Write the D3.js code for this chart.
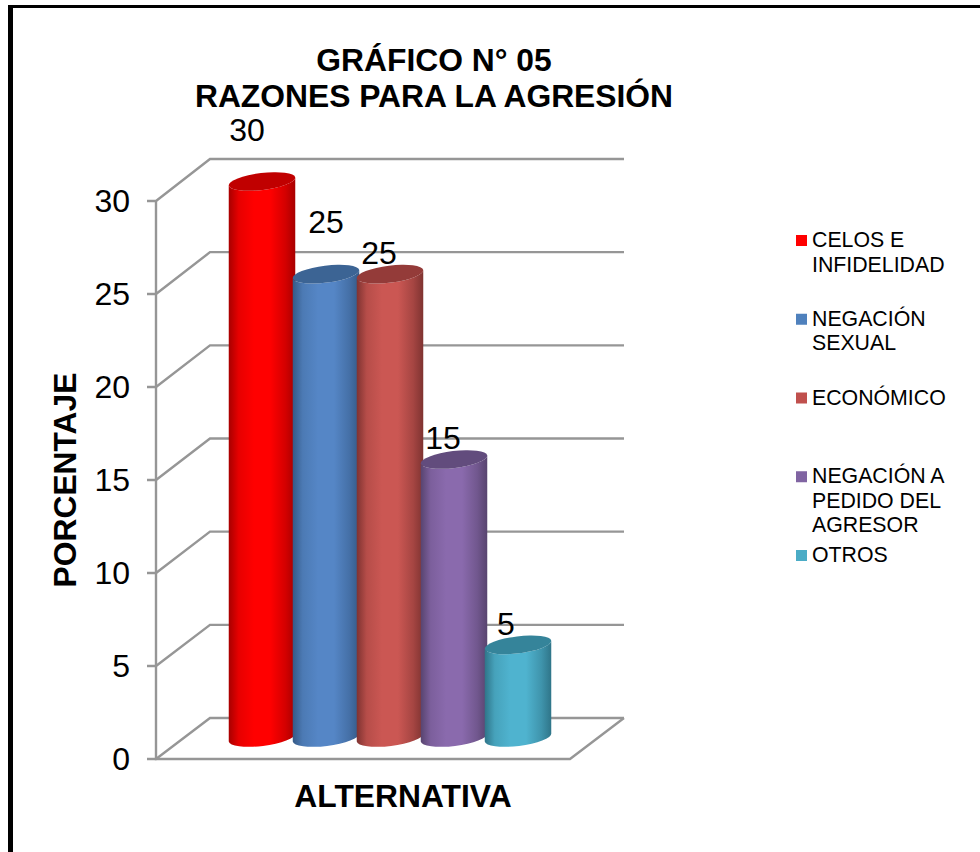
<!DOCTYPE html>
<html><head><meta charset="utf-8">
<script src="https://cdn.jsdelivr.net/npm/d3@7"></script>
<style>html,body{margin:0;padding:0;background:#fff;overflow:hidden}svg{display:block}text{font-family:"Liberation Sans",Arial,sans-serif;fill:#000}</style>
</head><body><svg id="c" width="980" height="852"></svg>
<script>
const categories = ["CELOS E INFIDELIDAD","NEGACIÓN SEXUAL","ECONÓMICO","NEGACIÓN A PEDIDO DEL AGRESOR","OTROS"];
const legendLines = [["CELOS E","INFIDELIDAD"],["NEGACIÓN","SEXUAL"],["ECONÓMICO"],["NEGACIÓN A","PEDIDO DEL","AGRESOR"],["OTROS"]];
const values = [30,25,25,15,5];
const tickValues = [0,5,10,15,20,25,30];
const baseColors = ["#ff0000","#4f81bd","#c0504d","#8064a2","#4bacc6"];
const centerColors = ["#ff0000","#5586c6","#cb5753","#8a6aad","#4fb3cf"];
const topColors = ["#c00000","#3c6494","#943b39","#624c7d","#35849a"];
const edgeColors = ["#a80000","#355a87","#7f3331","#58446f","#2f7589"];
const labelNudge = [[-15,-41],[0,-41],[-11,-10],[-11,-11],[-12,-10]];

const svg = d3.select("#c");
const yFront = d3.scaleLinear().domain([0,30]).range([759,201]);
const yBack = d3.scaleLinear().domain([0,30]).range([718,159]);
const yBar = d3.scaleLinear().domain([0,30]).range([737.5,181.5]);
const x = d3.scaleBand().domain(categories).range([230,550]).padding(0);
const frontL=156, frontR=570, backL=210, backR=624, rx=33.5, ry=8.5, tilt=-7;

// frame
svg.append("rect").attr("x",8).attr("y",5).attr("width",972).attr("height",3).attr("fill","#000");
svg.append("rect").attr("x",8).attr("y",5).attr("width",5).attr("height",847).attr("fill","#000");

// grid and walls
const grid = svg.append("g").attr("fill","none").attr("stroke","#969696").attr("stroke-width",2.4);
tickValues.forEach(t=>{
  grid.append("path").attr("d",`M${frontL-9},${yFront(t)}H${frontL}L${backL},${yBack(t)}H${backR}`);
});
grid.append("path").attr("d",`M${frontL},${yFront(30)}V${yFront(0)}H${frontR}L${backR},${yBack(0)}`);

svg.append("g").selectAll("text").data(tickValues).join("text")
  .attr("x",130).attr("y",d=>yFront(d)+11).attr("text-anchor","end").attr("font-size",32).text(d=>d);

// gradients
const defs = svg.append("defs");
centerColors.forEach((c,i)=>{
  const g = defs.append("linearGradient").attr("id","g"+i).attr("x1",0).attr("x2",1).attr("y1",0).attr("y2",0);
  const stops=[[0,edgeColors[i]],[0.15,d3.interpolateRgb(edgeColors[i],c)(0.72)],[0.38,c],[0.62,c],[0.85,d3.interpolateRgb(c,edgeColors[i])(0.5)],[1,edgeColors[i]]];
  stops.forEach(s=>g.append("stop").attr("offset",s[0]).attr("stop-color",s[1]));
});

// cylinders
const a = tilt*Math.PI/180, dx=rx*Math.cos(a), dy=rx*Math.sin(a);
const bars = svg.append("g");
values.forEach((v,i)=>{
  const cx = x(categories[i])+x.bandwidth()/2, yT=yBar(v), yB=yBar(0);
  bars.append("path").attr("fill",`url(#g${i})`)
    .attr("d",`M${cx-dx},${yT-dy}L${cx-dx},${yB-dy}A${rx},${ry} ${tilt} 0 0 ${cx+dx},${yB+dy}L${cx+dx},${yT+dy}A${rx},${ry} ${tilt} 0 1 ${cx-dx},${yT-dy}Z`);
  bars.append("ellipse").attr("cx",0).attr("cy",0).attr("rx",rx).attr("ry",ry).attr("fill",topColors[i])
    .attr("transform",`translate(${cx},${yT}) rotate(${tilt})`);
});

// data labels
svg.append("g").selectAll("text").data(values).join("text")
  .attr("x",(d,i)=>x(categories[i])+x.bandwidth()/2+labelNudge[i][0])
  .attr("y",(d,i)=>yBar(d)+labelNudge[i][1])
  .attr("text-anchor","middle").attr("font-size",32).text(d=>d);

// titles
const bold = 31.8;
svg.append("text").attr("x",434).attr("y",71).attr("text-anchor","middle").attr("font-size",bold).attr("font-weight","bold").text("GRÁFICO N° 05");
svg.append("text").attr("x",434).attr("y",107).attr("text-anchor","middle").attr("font-size",bold).attr("font-weight","bold").text("RAZONES PARA LA AGRESIÓN");
svg.append("text").attr("x",403).attr("y",807).attr("text-anchor","middle").attr("font-size",bold).attr("font-weight","bold").text("ALTERNATIVA");
svg.append("text").attr("transform","translate(76,480) rotate(-90)").attr("text-anchor","middle").attr("font-size",bold).attr("font-weight","bold").text("PORCENTAJE");

// legend
const legendY = d3.scalePoint().domain(categories).range([235,550]);
const lg = svg.append("g");
categories.forEach((c,i)=>{
  lg.append("rect").attr("x",796).attr("y",legendY(c)).attr("width",11).attr("height",11).attr("fill",baseColors[i]);
  const t = lg.append("text").attr("font-size",21.3);
  legendLines[i].forEach((l,j)=>t.append("tspan").attr("x",812).attr("y",legendY(c)+12+j*24.5).text(l));
});
</script></body></html>
